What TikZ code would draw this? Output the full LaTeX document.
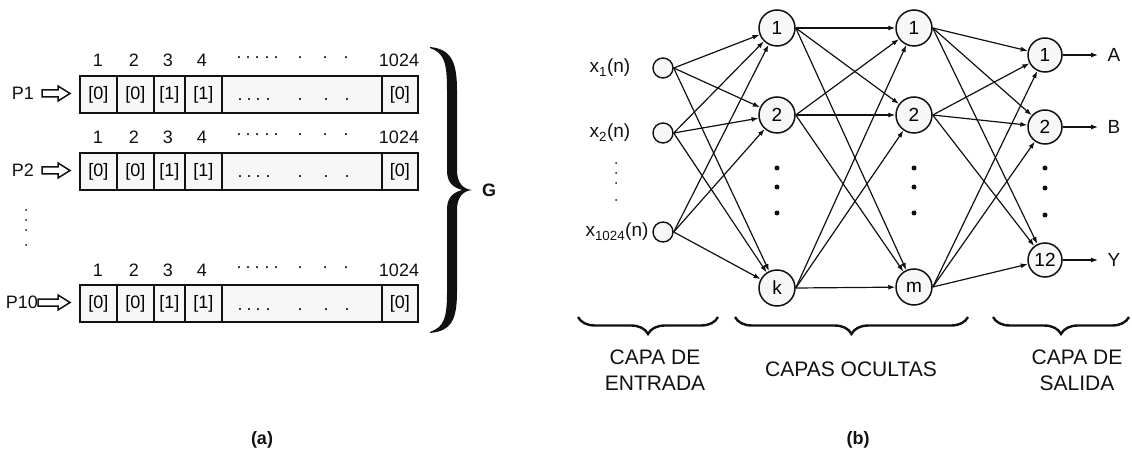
\documentclass[tikz,border=0pt]{standalone}
\usepackage{fontspec}
\setmainfont{Liberation Sans}
\usetikzlibrary{arrows.meta,decorations.pathreplacing,calc}
\definecolor{cellfill}{HTML}{F7F7F7}
\definecolor{ink}{HTML}{111111}
\begin{document}
\begin{tikzpicture}[x=1pt,y=-1pt,
  lbl/.style={font=\fontsize{18}{20}\selectfont, inner sep=0pt, text=ink},
  cellbox/.style={draw=ink, line width=1.8pt, fill=cellfill, inner sep=0pt, font=\fontsize{18}{20}\selectfont},
  neuron/.style={circle, draw=ink, line width=1.5pt, fill=cellfill, minimum size=36pt, inner sep=0pt, font=\fontsize{19}{20}\selectfont},
  outneuron/.style={neuron, minimum size=34pt},
  inneuron/.style={circle, draw=ink, line width=1.4pt, fill=cellfill, minimum size=20pt, inner sep=0pt},
  conn/.style={draw=ink, line width=1.2pt, -{Latex[length=7pt,width=5pt]}},
  hollowarrow/.style={draw=ink, line width=1.5pt, fill=white},
  layerbrace/.style={draw=ink, line width=2.4pt, decorate, decoration={brace, mirror, amplitude=17pt}},
  layerlbl/.style={font=\fontsize{21}{26}\selectfont, align=center, inner sep=0pt, text=ink},
  caption/.style={font=\bfseries\fontsize{18}{20}\selectfont, inner sep=0pt, text=ink},
  bigdot/.style={circle, fill=ink, inner sep=0pt, minimum size=5pt},
  smalldot/.style={circle, fill=ink, inner sep=0pt, minimum size=2pt}
]
\useasboundingbox (0,0) rectangle (1132,465);

% ---------------- (a) ----------------
\foreach \r/\top/\hy/\lab/\ax/\lx in {1/75/60/P1/42/34, 2/152/137/P2/42/34, 10/284/270/P10/38/38}{
  \pgfmathsetmacro{\cy}{\top+18.5}
  \foreach \a/\b/\t [count=\i] in {79/116/{[0]},116/153/{[0]},153/184/{[1]},184/221/{[1]},221/381/{},381/417/{[0]}}{
    \pgfmathsetmacro{\w}{\b-\a}
    \node[cellbox, minimum width=\w pt, minimum height=37pt, anchor=north west] (c\r-\i) at (\a,\top) {\t};
  }
  \foreach \x/\n in {98/1,134/2,168/3,202/4,399/1024}
    \node[lbl] (h\r-\n) at (\x,\hy) {\n};
  \foreach \x [count=\j] in {239,248,257,267,276,300,325,346}
    \node[lbl] (hd\r-\j) at (\x,\hy) {·};
  \foreach \x [count=\j] in {240,249,258,268,300,326,347}
    \node[lbl, anchor=base] (cd\r-\j) at (\x,\top+26) {.};
  \node[lbl, anchor=east] (p\r) at (\lx,\cy) {\lab};
  \draw[hollowarrow] (\ax,\cy-3.5) -- (58,\cy-3.5) -- (58,\cy-7.5) -- (70,\cy)
     -- (58,\cy+7.5) -- (58,\cy+3.5) -- (\ax,\cy+3.5) -- cycle;
}
\foreach \y [count=\j] in {210,220,230,245}
  \node[smalldot] (vd\j) at (26,\y) {};

% big brace
\fill[ink] (430,47) .. controls (450,49) and (457,60) .. (457,90) -- (457,170)
  .. controls (457,183) and (463,189) .. (472,190)
  .. controls (463,191) and (457,197) .. (457,210) -- (457,292)
  .. controls (457,322) and (450,331) .. (430,333) -- (430,332)
  .. controls (444,327) and (447,318) .. (447,292) -- (447,210)
  .. controls (447,198) and (452,193) .. (462,190)
  .. controls (452,187) and (447,182) .. (447,170) -- (447,90)
  .. controls (447,62) and (444,53) .. (430,48) -- cycle;
\node[lbl, font=\bfseries\fontsize{18}{20}\selectfont] (G) at (489,190) {G};

% ---------------- (b) ----------------
\node[inneuron] (i1) at (663,68) {};
\node[inneuron] (i2) at (663,133) {};
\node[inneuron] (i3) at (663,232) {};
\node[lbl, font=\fontsize{19}{20}\selectfont] (li1) at (610,68) {x\textsubscript{1}(n)};
\node[lbl, font=\fontsize{19}{20}\selectfont] (li2) at (610,133) {x\textsubscript{2}(n)};
\node[lbl, font=\fontsize{19}{20}\selectfont] (li3) at (617,232) {x\textsubscript{1024}(n)};
\foreach \y [count=\j] in {163,173,183,200}
  \node[smalldot] (id\j) at (616,\y) {};

\node[neuron] (h1) at (777,28) {1};
\node[neuron] (h2) at (777,115) {2};
\node[neuron] (hk) at (777,288) {k};
\node[neuron] (g1) at (914,28) {1};
\node[neuron] (g2) at (914,115) {2};
\node[neuron] (gm) at (914,287) {m};
\node[outneuron] (o1) at (1045,55) {1};
\node[outneuron] (o2) at (1045,127) {2};
\node[outneuron] (o12) at (1045,260) {12};

\foreach \y [count=\j] in {168,187,213}{
  \node[bigdot] (hd\j) at (777,\y) {};
  \node[bigdot] (gd\j) at (914,\y) {};
}
\foreach \y [count=\j] in {168,188,215}
  \node[bigdot] (od\j) at (1045,\y) {};

\foreach \s in {i1,i2,i3}
  \foreach \t in {h1,h2,hk}
    \draw[conn] (\s.east) -- (\t);
\foreach \s in {h1,h2,hk}
  \foreach \t in {g1,g2,gm}
    \draw[conn] (\s.east) -- (\t);
\foreach \s in {g1,g2,gm}
  \foreach \t in {o1,o2,o12}
    \draw[conn] (\s.east) -- (\t);

\coordinate (eA) at (1098,55);
\coordinate (eB) at (1098,127);
\coordinate (eY) at (1098,260);
\draw[conn] (o1.east) -- (eA);
\draw[conn] (o2.east) -- (eB);
\draw[conn] (o12.east) -- (eY);
\node[lbl, font=\fontsize{19}{20}\selectfont] (A) at (1114,55) {A};
\node[lbl, font=\fontsize{19}{20}\selectfont] (B) at (1114,127) {B};
\node[lbl, font=\fontsize{19}{20}\selectfont] (Y) at (1114,260) {Y};

% layer braces
\coordinate (b1l) at (578,317); \coordinate (b1r) at (718,317);
\coordinate (b2l) at (735,317); \coordinate (b2r) at (968,317);
\coordinate (b3l) at (993,317); \coordinate (b3r) at (1129,317);
\draw[layerbrace] (b1l) -- (b1r);
\draw[layerbrace] (b2l) -- (b2r);
\draw[layerbrace] (b3l) -- (b3r);
\node[layerlbl] (L1) at (655,370) {CAPA DE\\ENTRADA};
\node[layerlbl] (L2) at (851,369) {CAPAS OCULTAS};
\node[layerlbl] (L3) at (1077,370) {CAPA DE\\SALIDA};

\node[caption] (capa) at (262,440) {(a)};
\node[caption] (capb) at (858,440) {(b)};
\end{tikzpicture}
\end{document}
